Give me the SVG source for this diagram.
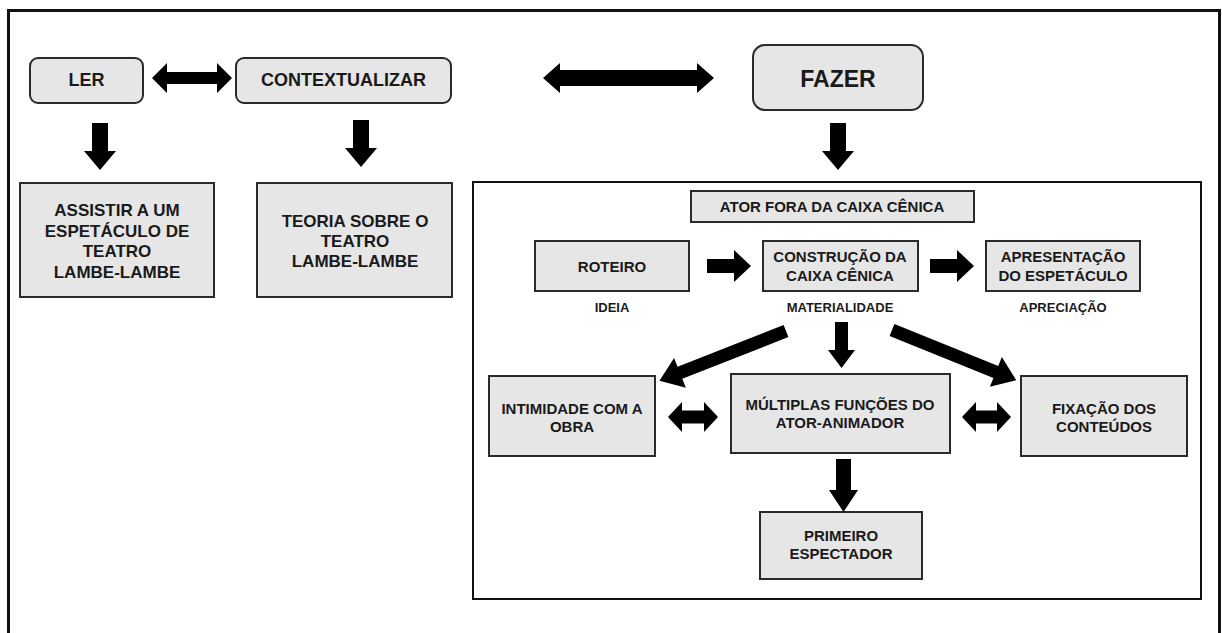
<svg xmlns="http://www.w3.org/2000/svg" width="1222" height="633" viewBox="0 0 1222 633">
<style>
.bx{fill:#e6e6e6;stroke:#2a2a2a;stroke-width:2}
.t{font-family:"Liberation Sans",Arial,sans-serif;font-weight:bold;fill:#1a1a1a;text-anchor:middle}
.t18{font-size:18px}
.t17{font-size:17px}
.t15{font-size:15px}
.t13{font-size:13px}
.t21{font-size:23px}
.ar{fill:#000}
.frame{fill:none;stroke:#111;stroke-width:3}
.inner{fill:none;stroke:#111;stroke-width:2}
</style>
<rect width="1222" height="633" fill="#fff"/>
<path class="frame" d="M8.5,633 V10.5 H1219.5 V633"/>
<rect class="inner" x="473" y="182" width="728" height="417"/>

<g id="ler"><rect class="bx" x="30" y="58" width="113" height="45" rx="8"/><text class="t t18" x="86.5" y="86">LER</text></g>
<g id="contextualizar"><rect class="bx" x="236" y="58" width="215" height="45" rx="8"/><text class="t t18" x="343.5" y="86">CONTEXTUALIZAR</text></g>
<g id="fazer"><rect class="bx" x="753" y="45" width="170" height="65" rx="12"/><text class="t t21" x="838" y="87">FAZER</text></g>
<g id="assistir"><rect class="bx" x="20" y="183" width="194" height="114"/><text class="t t17" x="117" y="216">ASSISTIR A UM</text><text class="t t17" x="117" y="237">ESPETÁCULO DE</text><text class="t t17" x="117" y="257">TEATRO</text><text class="t t17" x="117" y="278">LAMBE-LAMBE</text></g>
<g id="teoria"><rect class="bx" x="257" y="183" width="195" height="114"/><text class="t t17" x="355" y="227">TEORIA SOBRE O</text><text class="t t17" x="355" y="247">TEATRO</text><text class="t t17" x="355" y="267">LAMBE-LAMBE</text></g>
<g id="ator"><rect class="bx" x="691" y="191" width="283" height="31"/><text class="t t15" x="832" y="212">ATOR FORA DA CAIXA CÊNICA</text></g>
<g id="roteiro"><rect class="bx" x="535" y="241" width="154" height="50"/><text class="t t15" x="612" y="272">ROTEIRO</text></g>
<g id="construcao"><rect class="bx" x="763" y="241" width="155" height="50"/><text class="t t15" x="840" y="262">CONSTRUÇÃO DA</text><text class="t t15" x="840" y="281">CAIXA CÊNICA</text></g>
<g id="apresentacao"><rect class="bx" x="986" y="241" width="154" height="50"/><text class="t t15" x="1063" y="262">APRESENTAÇÃO</text><text class="t t15" x="1063" y="281">DO ESPETÁCULO</text></g>
<g id="labels"><text class="t t13" x="612" y="312">IDEIA</text><text class="t t13" x="840" y="312">MATERIALIDADE</text><text class="t t13" x="1063" y="312">APRECIAÇÃO</text></g>
<g id="intimidade"><rect class="bx" x="489" y="376" width="166" height="80"/><text class="t t15" x="572" y="414">INTIMIDADE COM A</text><text class="t t15" x="572" y="432">OBRA</text></g>
<g id="multiplas"><rect class="bx" x="731" y="374" width="219" height="79"/><text class="t t15" x="840" y="410">MÚLTIPLAS FUNÇÕES DO</text><text class="t t15" x="840" y="428">ATOR-ANIMADOR</text></g>
<g id="fixacao"><rect class="bx" x="1021" y="376" width="166" height="80"/><text class="t t15" x="1104" y="414">FIXAÇÃO DOS</text><text class="t t15" x="1104" y="432">CONTEÚDOS</text></g>
<g id="primeiro"><rect class="bx" x="760" y="512" width="162" height="67"/><text class="t t15" x="841" y="541">PRIMEIRO</text><text class="t t15" x="841" y="559">ESPECTADOR</text></g>

<g id="connectors" class="ar">
<path d="M152,78 L167,63 L167,72 L217,72 L217,63 L232,78 L217,93 L217,84 L167,84 L167,93 Z"/>
<path d="M543,78 L560,63 L560,70 L697,70 L697,63 L714,78 L697,93 L697,86 L560,86 L560,93 Z"/>
<path d="M92,123 H108 V151 H116 L100,170 L84,151 H92 Z"/>
<path d="M353,120 H369 V148 H377 L361,167 L345,148 H353 Z"/>
<path d="M830,123 H846 V151 H854 L838,170 L822,151 H830 Z"/>
<path d="M707,259 H734 V250 L751,266 L734,282 V273 H707 Z"/>
<path d="M930,259 H957 V250 L974,266 L957,282 V273 H930 Z"/>
<path d="M835,322 H848 V350 H855 L841.5,368 L828,350 H835 Z"/>
<path d="M836,459 H851 V490 H858 L843.5,512 L829,490 H836 Z"/>
<path transform="translate(786,331) rotate(158.5)" d="M0,-6.5 L114,-6.5 L114,-16 L136,0 L114,16 L114,6.5 L0,6.5 Z"/>
<path transform="translate(892,330) rotate(22)" d="M0,-6.5 L112,-6.5 L112,-16 L134,0 L112,16 L112,6.5 L0,6.5 Z"/>
<path d="M668,417 L682,402 L682,410.5 L704,410.5 L704,402 L718,417 L704,432 L704,423.5 L682,423.5 L682,432 Z"/>
<path d="M962,417 L976,402 L976,410.5 L997,410.5 L997,402 L1011,417 L997,432 L997,423.5 L976,423.5 L976,432 Z"/>
</g>
</svg>
